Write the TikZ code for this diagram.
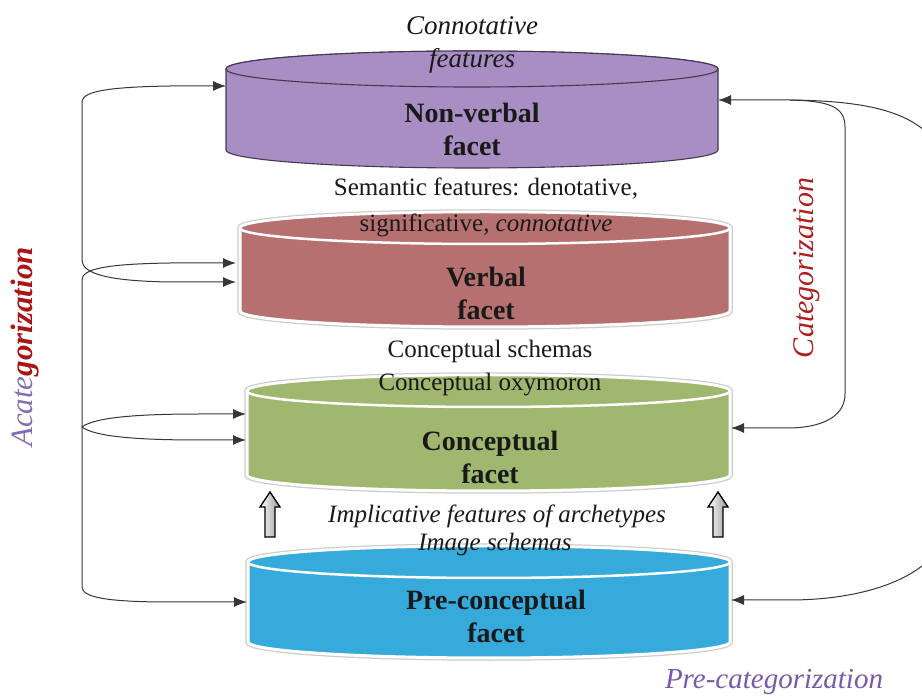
\documentclass[tikz,border=0pt]{standalone}
\usepackage{fontspec}
\setmainfont{Liberation Serif}
\usetikzlibrary{arrows.meta}
\definecolor{nvfill}{RGB}{168,142,194}
\definecolor{nvedge}{RGB}{70,55,85}
\definecolor{vbfill}{RGB}{182,112,112}
\definecolor{cofill}{RGB}{160,183,112}
\definecolor{pcfill}{RGB}{55,170,220}
\definecolor{acpurple}{RGB}{130,110,180}
\definecolor{acred}{RGB}{170,20,20}
\definecolor{catred}{RGB}{175,30,30}
\definecolor{prepurple}{RGB}{120,90,170}
\definecolor{connc}{RGB}{55,55,55}
\definecolor{txt}{RGB}{25,25,25}
\newcommand\facetcyl[9]{%
  \pgfmathsetmacro\facetrx{(#2-#1)/2}%
  \pgfmathsetmacro\facetcx{(#1+#2)/2}%
  \path[#7] (#1,#3) -- (#1,#4) arc[start angle=180,end angle=360,x radius=\facetrx,y radius=#5] -- (#2,#3) arc[start angle=0,end angle=180,x radius=\facetrx,y radius=#5] -- cycle;
  \path[#8,fill=#6] (#1,#3) -- (#1,#4) arc[start angle=180,end angle=360,x radius=\facetrx,y radius=#5] -- (#2,#3) arc[start angle=0,end angle=180,x radius=\facetrx,y radius=#5] -- cycle;
  \path[#9,fill=#6] (\facetcx,#3) ellipse[x radius=\facetrx,y radius=#5];
}
\begin{document}
\begin{tikzpicture}[x=1pt,y=1pt,
  under/.style={draw=gray!40,line width=5.5pt},
  rim/.style={draw=white,line width=3pt},
  toprim/.style={draw=white,line width=2.5pt},
  plain/.style={draw=none},
  nvline/.style={draw=nvedge,line width=1.1pt},
  conn/.style={draw=connc,line width=1pt},
  tipL/.tip={Latex[length=13pt,width=10pt]},
  regular/.style={text=txt,align=center,font=\fontsize{25}{36}\selectfont,inner sep=0pt},
  boldlbl/.style={text=txt,align=center,font=\fontsize{28}{33}\selectfont\bfseries,inner sep=0pt},
  hollow/.style={draw=black,line width=1.3pt,left color=white,right color=gray!80}
]
\useasboundingbox (0,0) rectangle (922,697);
\fill[white] (0,0) rectangle (922,697);

% cylinders
\facetcyl{226}{718}{628}{547}{18}{nvfill}{plain}{nvline}{nvline}
\facetcyl{240}{730}{469}{386}{16}{vbfill}{under}{rim}{toprim}
\facetcyl{247}{730}{306}{222}{16}{cofill}{under}{rim}{toprim}
\facetcyl{248}{730}{135}{55}{16}{pcfill}{under}{rim}{toprim}

% texts
\node[text=txt,align=center,font=\fontsize{27}{33}\selectfont\itshape,inner sep=0pt] (conn) at (472,652) {Connotative\\features};
\node[boldlbl] (nv) at (472,568) {Non-verbal\\facet};
\node[regular] (sem) at (486,490) {Semantic features: denotative,\\significative, \textit{connotative}};
\node[boldlbl] (vb) at (486,404) {Verbal\\facet};
\node[regular] (csch) at (490,346) {Conceptual schemas};
\node[regular] (coxy) at (490,312) {Conceptual oxymoron};
\node[boldlbl] (co) at (490,240) {Conceptual\\facet};
\node[regular,font=\fontsize{25}{30}\selectfont\itshape] (impl) at (497,181) {Implicative features of archetypes};
\node[regular,font=\fontsize{25}{30}\selectfont\itshape] (imgs) at (495,153) {Image schemas};
\node[boldlbl] (pc) at (496,81) {Pre-conceptual\\facet};

\node[rotate=90,inner sep=0pt,font=\fontsize{31}{36}\selectfont] (acat) at (25,350)
  {{\color{acpurple}\itshape Acate}{\color{acred}\bfseries\itshape gorization}};
\node[rotate=90,inner sep=0pt,text=catred,font=\fontsize{30}{36}\selectfont\itshape] (cat) at (807,429) {Categorization};
\node[inner sep=0pt,text=prepurple,font=\fontsize{29}{34}\selectfont\itshape] (precat) at (774,15) {Pre-categorization};

% hollow arrows
\draw[hollow] (265,160) -- (265,190) -- (260,190) -- (270,205) -- (280,190) -- (275,190) -- (275,160) -- cycle;
\draw[hollow] (713,160) -- (713,190) -- (708,190) -- (718,205) -- (728,190) -- (723,190) -- (723,160) -- cycle;

% connector end points
\coordinate (nvL) at (226,611);
\coordinate (vbL1) at (236,434);
\coordinate (vbL2) at (236,415);
\coordinate (coL1) at (246,283);
\coordinate (coL2) at (246,257);
\coordinate (pcL) at (247,95);
\coordinate (fork) at (82,270);
\coordinate (nvR) at (718,597);
\coordinate (coR) at (731,269);
\coordinate (pcR) at (731,97);
\coordinate (split) at (790,597);

% left connectors
\draw[conn,tipL-tipL] (nvL) -- (170,611) .. controls (110,610) and (84,606) .. (82,596) -- (82,437) .. controls (82,424) and (105,416) .. (170,415) -- (vbL2);
\draw[conn,tipL-tipL] (vbL1) -- (170,434) .. controls (105,433) and (82,428) .. (82,417) -- (82,110) .. controls (82,100) and (105,95) .. (170,95) -- (pcL);
\draw[conn,-tipL] (fork) .. controls (95,280) and (140,283) .. (200,283) -- (coL1);
\draw[conn,-tipL] (fork) .. controls (95,260) and (140,257) .. (200,257) -- (coL2);

% right connectors
\draw[conn,tipL-tipL] (nvR) -- (split) .. controls (830,596) and (845,590) .. (845,570) -- (845,303) .. controls (845,285) and (830,270) .. (790,269) -- (coR);
\begin{scope}
\clip (0,0) rectangle (922,697);
\draw[conn,-tipL] (split) .. controls (870,596) and (915,585) .. (940,550) -- (940,150) .. controls (915,112) and (850,97) .. (790,97) -- (pcR);
\end{scope}
\end{tikzpicture}
\end{document}
